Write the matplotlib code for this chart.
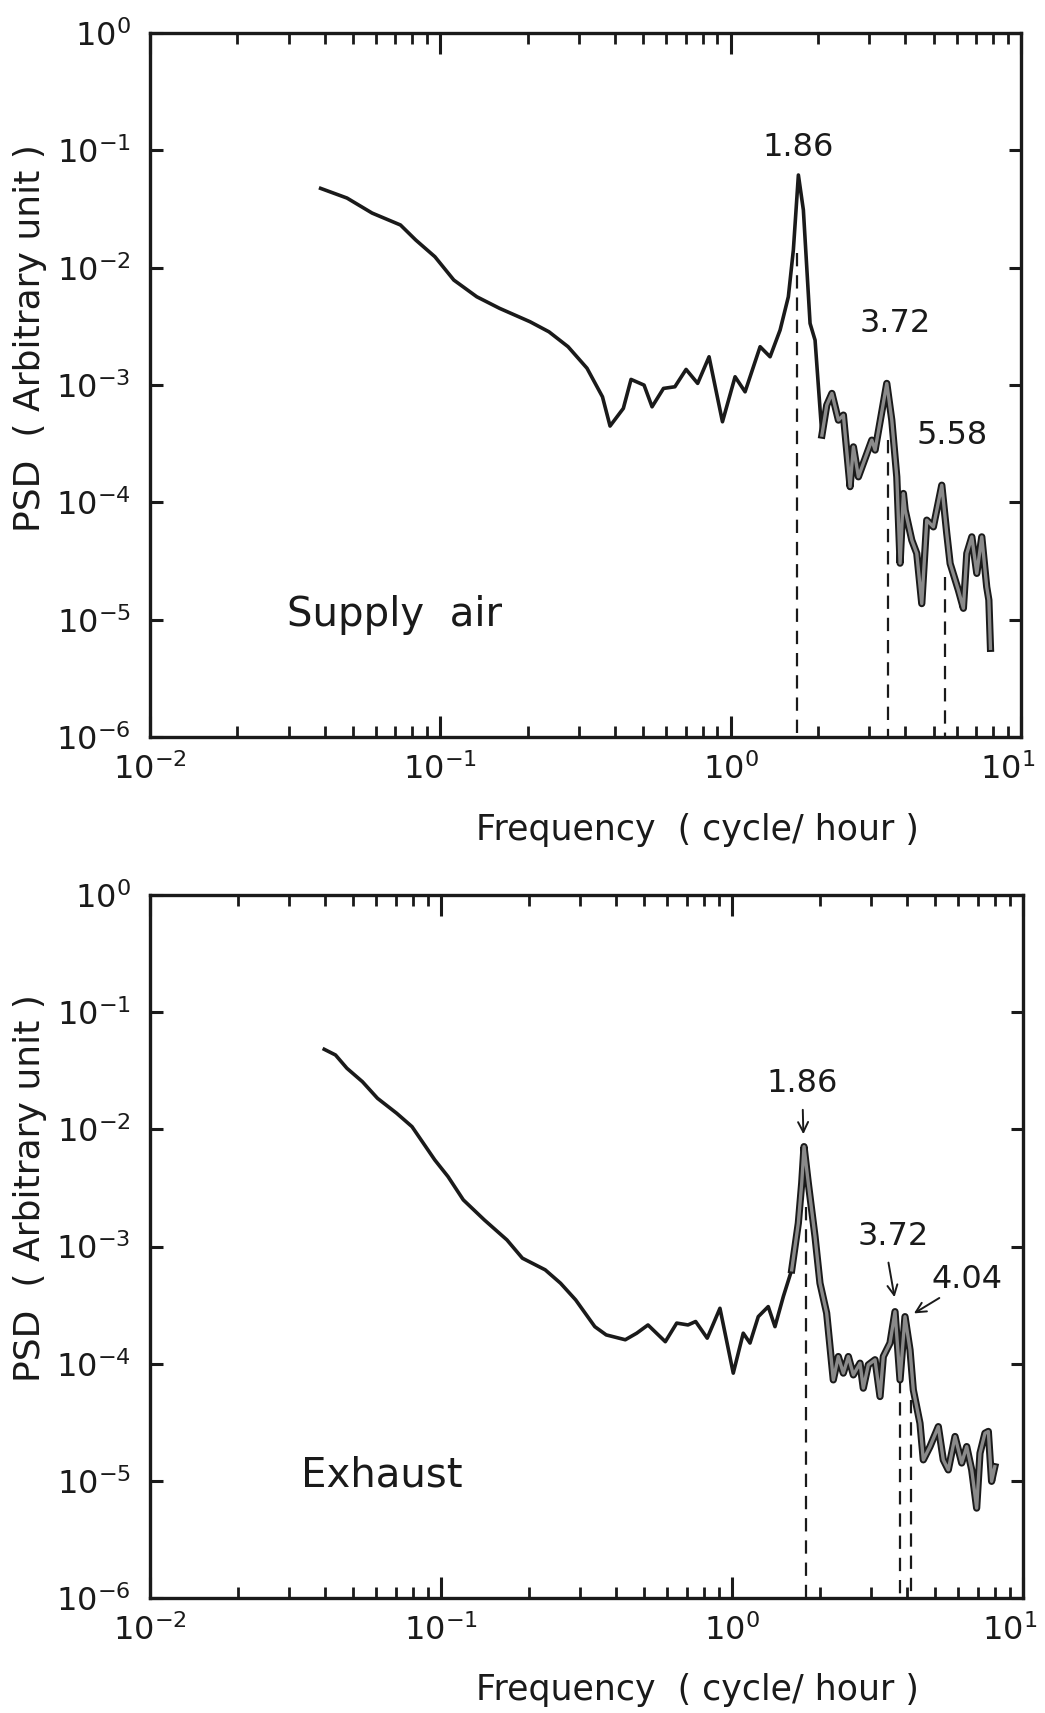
import numpy as np
import matplotlib
matplotlib.use("Agg")
import matplotlib.pyplot as plt
import matplotlib.transforms as mtransforms
from matplotlib.ticker import NullLocator

# --- Supply air spectrum ---
supply_f = [0.0387, 0.0477, 0.0582, 0.0729, 0.0823, 0.0958, 0.1113, 0.1335, 0.160, 0.2037,
            0.2367, 0.2754, 0.320, 0.3618, 0.3842, 0.4269, 0.4538, 0.5031, 0.5361, 0.5869,
            0.6425, 0.7022, 0.7697, 0.8425, 0.937, 1.0356, 1.121, 1.263, 1.367, 1.480,
            1.580, 1.644, 1.711, 1.780, 1.877, 1.953, 2.062, 2.143, 2.232, 2.35,
            2.445, 2.578, 2.647, 2.754, 3.063, 3.144, 3.449, 3.589, 3.734, 3.833,
            3.935, 3.99, 4.206, 4.375, 4.552, 4.736, 4.991, 5.335, 5.55, 5.70,
            6.087, 6.332, 6.507, 6.77, 7.043, 7.326, 7.62, 7.75, 7.85]
supply_psd = [0.0474, 0.0392, 0.0292, 0.0231, 0.0172, 0.01239, 0.00784, 0.00565, 0.0045, 0.00346,
              0.00284, 0.00212, 0.00139, 7.93e-4, 4.47e-4, 6.32e-4, 1.116e-3, 9.98e-4, 6.52e-4, 9.35e-4,
              9.66e-4, 1.358e-3, 1.032e-3, 1.74e-3, 4.86e-4, 1.175e-3, 8.75e-4, 2.12e-3, 1.74e-3, 2.94e-3,
              5.65e-3, 0.01413, 0.0616, 0.031, 3.35e-3, 2.41e-3, 3.74e-4, 6.74e-4, 8.48e-4, 5.02e-4,
              5.54e-4, 1.36e-4, 2.97e-4, 1.65e-4, 3.39e-4, 2.79e-4, 1.032e-3, 5.02e-4, 1.65e-4, 3.03e-5,
              1.19e-4, 8.58e-5, 4.76e-5, 3.67e-5, 1.37e-5, 7.05e-5, 6.18e-5, 1.40e-4, 5.43e-5, 3.01e-5,
              1.78e-5, 1.25e-5, 3.67e-5, 5.08e-5, 2.48e-5, 5.08e-5, 1.9e-5, 1.47e-5, 5.7e-6]
supply_peaks = [1.689, 3.492, 5.477]
supply_peak_top = [0.0133, 3.4e-4, 2.3e-5]
supply_labels = ["1.86", "3.72", "5.58"]
supply_label_f = [1.711, 3.684, 5.79]
supply_label_psd = [0.1067, 0.00337, 3.74e-4]

# --- Exhaust spectrum ---
exhaust_f = [0.0397, 0.0434, 0.0475, 0.0537, 0.0605, 0.0704, 0.0795, 0.0870, 0.0952, 0.1057,
             0.1193, 0.1409, 0.1685, 0.1904, 0.2281, 0.2575, 0.2903, 0.3377, 0.3696, 0.4298,
             0.4705, 0.5144, 0.590, 0.6457, 0.706, 0.750, 0.822, 0.909, 1.010, 1.093,
             1.153, 1.231, 1.332, 1.405, 1.501, 1.604, 1.690, 1.736, 1.768, 1.829,
             1.929, 2.006, 2.115, 2.229, 2.319, 2.413, 2.511, 2.612, 2.754, 2.826,
             2.940, 3.101, 3.226, 3.311, 3.491, 3.632, 3.779, 3.931, 4.09, 4.198,
             4.426, 4.544, 4.79, 5.117, 5.322, 5.537, 5.84, 6.157, 6.405, 6.664,
             6.93, 7.115, 7.4, 7.6, 7.8, 8.0]
exhaust_psd = [0.0482, 0.0431, 0.0332, 0.0255, 0.0184, 0.01372, 0.01054, 0.0076, 0.00548, 0.00395,
               0.0025, 1.686e-3, 1.138e-3, 7.95e-4, 6.32e-4, 4.86e-4, 3.5e-4, 2.07e-4, 1.76e-4, 1.6e-4,
               1.82e-4, 2.14e-4, 1.54e-4, 2.22e-4, 2.14e-4, 2.29e-4, 1.65e-4, 2.97e-4, 8.3e-5, 1.82e-4,
               1.5e-4, 2.52e-4, 3.07e-4, 2.07e-4, 3.74e-4, 6.32e-4, 1.58e-3, 3.47e-3, 7.12e-3, 3.47e-3,
               1.215e-3, 4.86e-4, 2.7e-4, 7.27e-5, 1.15e-4, 8.3e-5, 1.15e-4, 8.02e-5, 1.01e-4, 6.18e-5,
               9.77e-5, 1.08e-4, 5.24e-5, 1.15e-4, 1.5e-4, 2.78e-4, 7.27e-5, 2.52e-4, 1.31e-4, 5.98e-5,
               3.1e-5, 1.51e-5, 1.96e-5, 2.9e-5, 1.51e-5, 1.24e-5, 2.39e-5, 1.42e-5, 1.96e-5, 1.24e-5,
               5.85e-6, 1.72e-5, 2.55e-5, 2.64e-5, 9.9e-6, 1.32e-5]
exhaust_peaks = [1.796, 3.779, 4.113]
exhaust_peak_top = [0.00218, 7.27e-5, 4.9e-5]
exhaust_labels = ["1.86", "3.72", "4.04"]
exhaust_label_f = [1.736, 3.575, 6.42]
exhaust_label_psd = [0.0247, 0.00121, 5.19e-4]
exhaust_arrow_from = [(1.75, 0.0155), (3.436, 7.69e-4), (5.255, 3.74e-4)]
exhaust_arrow_to = [(1.76, 0.0086), (3.632, 3.5e-4), (4.14, 2.61e-4)]

x_ticks = [1e-2, 1e-1, 1e0, 1e1]
x_minor = [k * 10.0 ** e for e in (-2, -1, 0) for k in range(2, 10)]
x_ticklabels = [r"$10^{-2}$", r"$10^{-1}$", r"$10^{0}$", r"$10^{1}$"]
y_ticks = [1e-6, 1e-5, 1e-4, 1e-3, 1e-2, 1e-1, 1e0]
y_ticklabels = [r"$10^{-6}$", r"$10^{-5}$", r"$10^{-4}$", r"$10^{-3}$",
                r"$10^{-2}$", r"$10^{-1}$", r"$10^{0}$"]

ink = "#1a1a1a"

W, H = 1045, 1713
fig = plt.figure(figsize=(W / 100, H / 100), dpi=100)
fig.patch.set_facecolor("white")


def panel(rect, f, psd, band_from, name, name_pos, name_size):
    ax = fig.add_axes(rect)
    ax.set_xscale("log")
    ax.set_yscale("log")
    ax.set_xlim(1e-2, 1e1)
    ax.set_ylim(1e-6, 1e0)

    f = np.array(f)
    psd = np.array(psd)
    ax.plot(f, psd, color=ink, lw=2.6, zorder=3, solid_joinstyle="round")
    # noisy high-frequency part is drawn as a grey band with dark edges
    m = f >= band_from
    ax.plot(f[m], psd[m], color=ink, lw=5.2, zorder=3, solid_joinstyle="round")
    ax.plot(f[m], psd[m], color="#8a8a8a", lw=2.4, zorder=4, solid_joinstyle="round")

    ax.text(name_pos[0], name_pos[1], name, fontsize=name_size, ha="center",
            va="center", color=ink)

    for s in ax.spines.values():
        s.set_linewidth(2.4)
        s.set_color(ink)

    ax.set_xticks(x_ticks)
    ax.set_xticklabels(x_ticklabels)
    ax.set_xticks(x_minor, minor=True)
    ax.set_xticklabels([], minor=True)
    ax.set_yticks(y_ticks)
    ax.set_yticklabels(y_ticklabels)
    ax.yaxis.set_minor_locator(NullLocator())

    ax.tick_params(axis="x", which="major", direction="in", length=15, width=2.2,
                   top=True, bottom=True, labelsize=23, pad=12, color=ink,
                   labelcolor=ink)
    ax.tick_params(axis="x", which="minor", direction="in", length=8, width=2.0,
                   top=True, bottom=True, color=ink)
    ax.tick_params(axis="y", which="major", direction="in", length=9, width=2.2,
                   left=True, right=True, labelsize=23, pad=14, color=ink,
                   labelcolor=ink)

    # last x label sits a little inside the figure edge
    lbl = ax.xaxis.get_majorticklabels()[-1]
    lbl.set_transform(lbl.get_transform() +
                      mtransforms.ScaledTranslation(-10 / 72, 0, fig.dpi_scale_trans))
    return ax


# top panel: supply air
ax1 = panel([150 / W, 1 - 737 / H, 871 / W, 704 / H], supply_f, supply_psd, 2.0,
            "Supply  air", (0.0698, 1.09e-5), 29)
for pf, top in zip(supply_peaks, supply_peak_top):
    ax1.plot([pf, pf], [top, 1e-6], color=ink, lw=1.6, ls=(0, (6, 4)), zorder=2)
for lab, lf, lp in zip(supply_labels, supply_label_f, supply_label_psd):
    ax1.text(lf, lp, lab, fontsize=23, ha="center", va="center", color=ink)

# bottom panel: exhaust
ax2 = panel([150 / W, 1 - 1598 / H, 873 / W, 703 / H], exhaust_f, exhaust_psd, 1.6,
            "Exhaust", (0.0627, 1.1e-5), 29)
for pf, top in zip(exhaust_peaks, exhaust_peak_top):
    ax2.plot([pf, pf], [top, 1e-6], color=ink, lw=1.6, ls=(0, (6, 4)), zorder=2)
for lab, lf, lp in zip(exhaust_labels, exhaust_label_f, exhaust_label_psd):
    ax2.text(lf, lp, lab, fontsize=23, ha="center", va="center", color=ink)
for a, b in zip(exhaust_arrow_from, exhaust_arrow_to):
    ax2.annotate("", xy=b, xytext=a,
                 arrowprops=dict(arrowstyle="->", color=ink, lw=1.4,
                                 mutation_scale=18))

# axis titles
for yc in [338, 1188]:
    fig.text(30 / W, 1 - yc / H, "PSD  ( Arbitrary unit )", rotation=90,
             fontsize=26, ha="center", va="center", color=ink)
for yc in [830, 1690]:
    fig.text(697 / W, 1 - yc / H, "Frequency  ( cycle/ hour )", fontsize=25,
             ha="center", va="center", color=ink)

fig.savefig("out.png", dpi=100, facecolor="white")
